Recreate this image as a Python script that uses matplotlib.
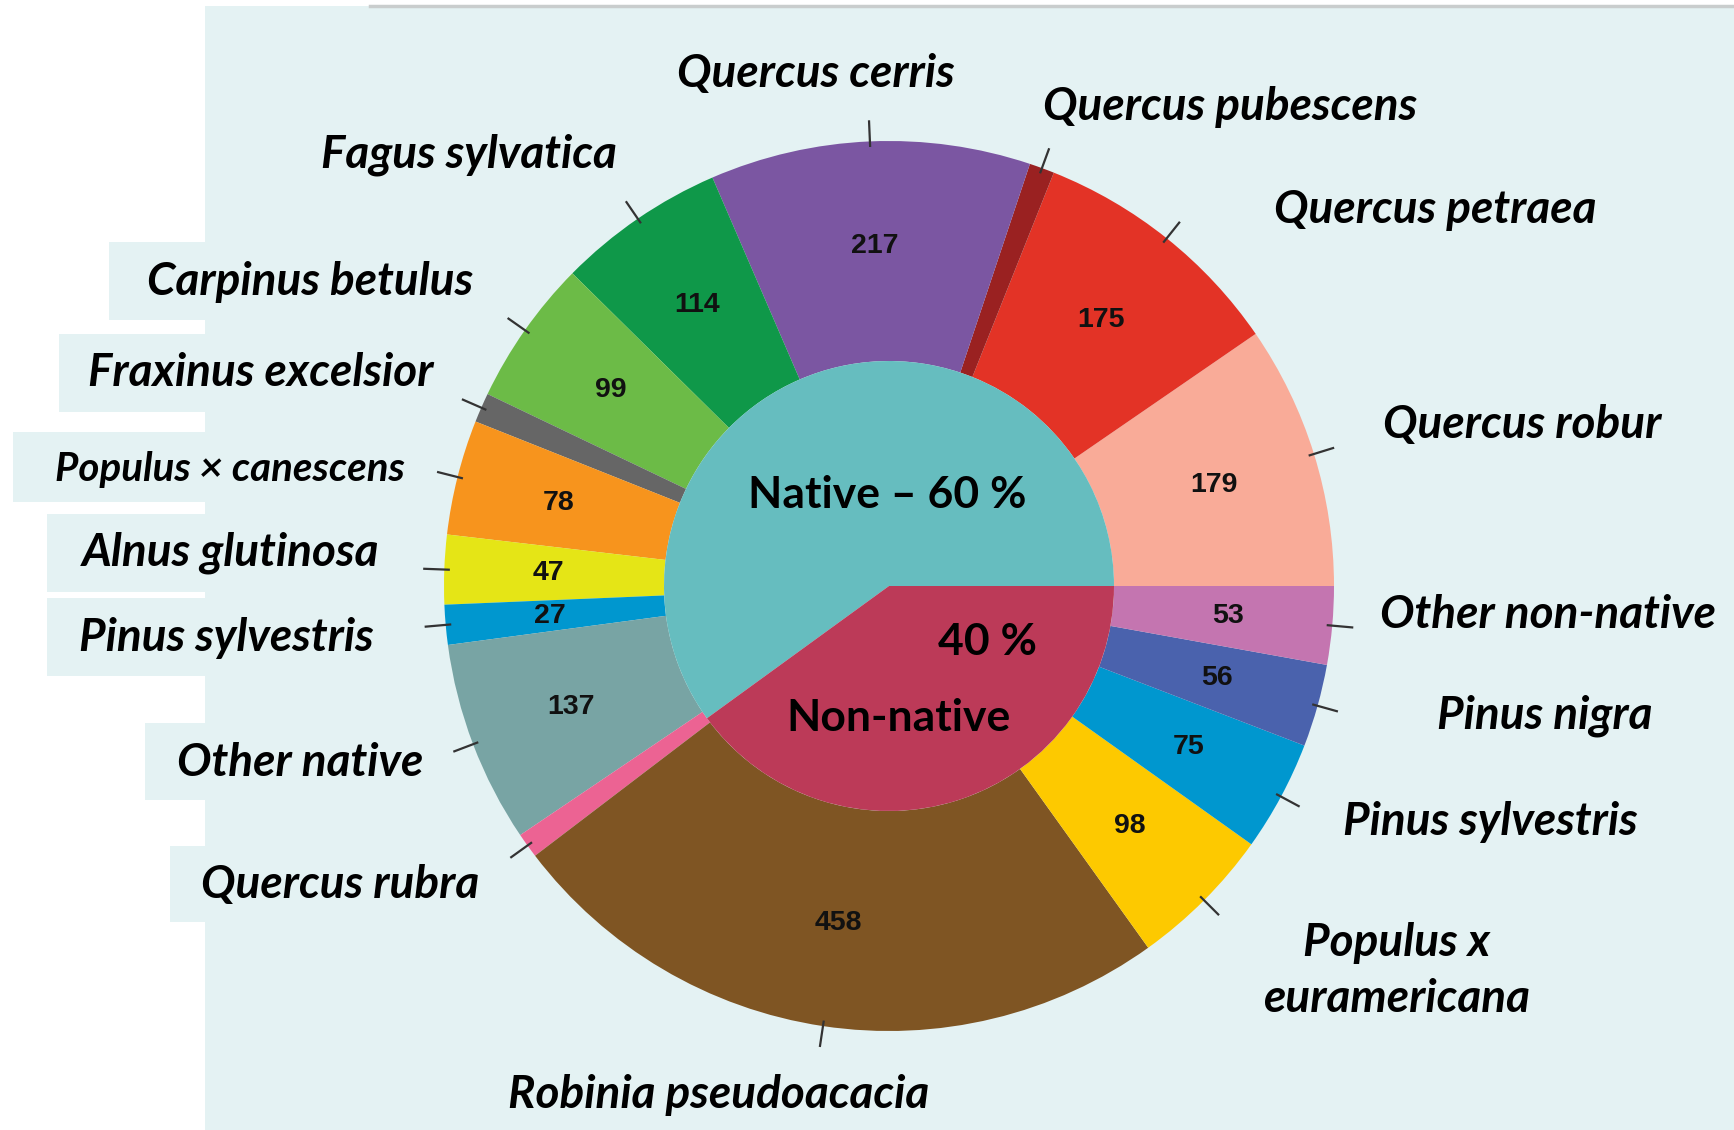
import numpy as np
from matplotlib import pyplot as plt
from matplotlib.patches import Rectangle

W, H = 1734, 1130

# outer ring: tree species, counterclockwise from 3 o'clock
species = ['Quercus robur', 'Quercus petraea', 'Quercus pubescens', 'Quercus cerris',
           'Fagus sylvatica', 'Carpinus betulus', 'Fraxinus excelsior',
           'Populus × canescens', 'Alnus glutinosa', 'Pinus sylvestris', 'Other native',
           'Quercus rubra', 'Robinia pseudoacacia', 'Populus x\neuramericana',
           'Pinus sylvestris', 'Pinus nigra', 'Other non-native']
counts = [179, 175, 17, 217, 114, 99, 20, 78, 47, 27, 137,
          17, 458, 98, 75, 56, 53]
colors = ['#f9ab98', '#e33326', '#9a2121', '#7b56a2', '#0f9849', '#6cbb47', '#666666',
          '#f7941d', '#e5e516', '#0097cf', '#78a4a4',
          '#ec6393', '#7f5523', '#fdc900', '#0097cf', '#4a62ad', '#c475b0']

# inner pie: origin
origin = ['Native', 'Non-native']
origin_share = [60, 40]
origin_colors = ['#66bdbf', '#bc3a58']

# label layout (pixel centres, y measured from top)
label_pos = [(1522, 425), (1435, 210), (1230, 107), (816, 74), (469, 155), (310, 282),
             (261, 373), (230, 469), (231, 553), (226, 638), (300, 763), (340, 885),
             (719, 1095), (1397, 971), (1490, 822), (1545, 716), (1548, 615)]
label_size = [33] * len(species)
label_size[7] = 29

bg = '#e4f2f3'
cx, cy, R, r_in = 889, H - 586, 445, 225

fig = plt.figure(figsize=(W / 100, H / 100), dpi=100, facecolor='white')
ax = fig.add_axes([0, 0, 1, 1])

# background panel and label boxes
ax.add_patch(Rectangle((205, 0), W - 205, H - 6, color=bg, zorder=0, lw=0))
ax.plot([370, W], [H - 6, H - 6], color='#c9cdcd', lw=2.5, zorder=0)
boxes = [(109, 242, 320), (59, 334, 412), (13, 432, 502), (47, 514, 592),
         (47, 598, 676), (145, 723, 800), (170, 846, 922)]
for x0, y0, y1 in boxes:
    ax.add_patch(Rectangle((x0, H - y1), 206 - x0, y1 - y0, color=bg, zorder=0, lw=0))

wedges, _, nums = ax.pie(counts, colors=colors, startangle=0, counterclock=True,
                         center=(cx, cy), radius=R, autopct='%1.0f',
                         pctdistance=0.765, wedgeprops=dict(width=R - r_in, linewidth=0),
                         frame=True)
for t, v in zip(nums, counts):
    t.set_text(str(v) if v > 25 else '')
    t.set_fontsize(20.5)
    t.set_family('Liberation Sans')
    t.set_fontweight('bold')
    t.set_color('#111111')

ax.pie(origin_share, colors=origin_colors, startangle=0, counterclock=True,
       center=(cx, cy), radius=r_in, wedgeprops=dict(linewidth=0), frame=True)
ax.set_xlim(0, W)
ax.set_ylim(0, H)
ax.set_aspect('equal')
ax.axis('off')

# tick marks and species names
for w, name, (lx, ly), fs in zip(wedges, species, label_pos, label_size):
    a = np.deg2rad((w.theta1 + w.theta2) / 2)
    ax.plot([cx + R * 0.99 * np.cos(a), cx + R * 1.045 * np.cos(a)],
            [cy + R * 0.99 * np.sin(a), cy + R * 1.045 * np.sin(a)],
            color='#333333', lw=1.6, zorder=3)
    ax.text(lx, H - ly, name, ha='center', va='center', fontsize=fs,
            family='Lato', fontweight='bold', style='italic', linespacing=1.42)

ax.text(887, H - 495, 'Native – 60 %', ha='center', va='center', fontsize=32,
        family='Lato', fontweight='bold')
ax.text(988, H - 642, '40 %', ha='center', va='center', fontsize=32,
        family='Lato', fontweight='bold')
ax.text(899, H - 718, 'Non-native', ha='center', va='center', fontsize=32,
        family='Lato', fontweight='bold')

fig.savefig('out.png', dpi=100, facecolor='white')
